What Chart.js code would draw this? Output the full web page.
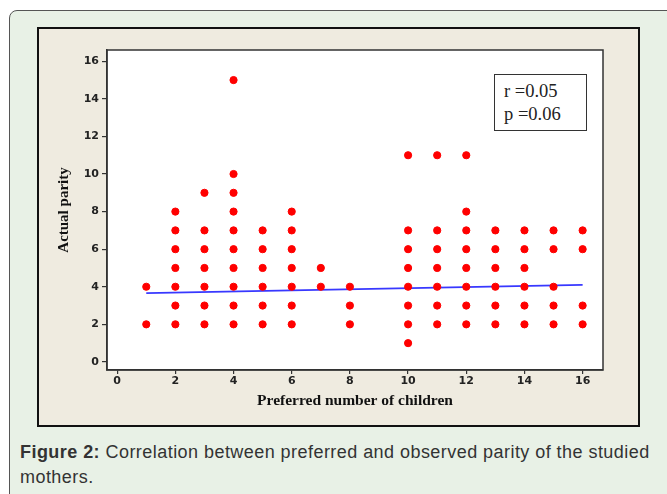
<!DOCTYPE html>
<html>
<head>
<meta charset="utf-8">
<script src="https://cdn.jsdelivr.net/npm/chart.js@4.4.0/dist/chart.umd.min.js"></script>
<style>
body { margin: 0; background: #fff; width: 667px; height: 494px; overflow: hidden; position: relative; }
.card { position: absolute; left: 9px; top: 10px; width: 680px; height: 500px; background: #e8f1e6; border: 1px solid #555; border-radius: 8px; }
.figure { position: absolute; left: 37px; top: 27px; width: 599px; height: 396px; background: #efebe0; border: 2px solid #111; }
#myChart { position: absolute; left: 0; top: 0; }
.stats { position: absolute; left: 455px; top: 45px; width: 93px; height: 57px; background: #fff; border: 1.5px solid #333;
  font-family: "Liberation Serif", serif; font-size: 18.5px; line-height: 23px; color: #222; padding: 5px 0 0 9px; box-sizing: border-box; }
.caption { position: absolute; left: 20px; top: 440px; width: 645px; font-family: "Liberation Sans", Arial, sans-serif; font-size: 18px; letter-spacing: 0.45px; line-height: 25px; color: #333; }
</style>
</head>
<body>
<div class="card"></div>
<div class="figure">
  <canvas id="myChart" width="599" height="396"></canvas>
  <div class="stats">r =0.05<br>p =0.06</div>
</div>
<div class="caption"><b>Figure 2:</b> Correlation between preferred and observed parity of the studied mothers.</div>
<script>
// preferred number of children and the observed parities at each
const preferred = [1, 2, 3, 4, 5, 6, 7, 8, 10, 11, 12, 13, 14, 15, 16];
const parities = [
    [4, 2],
    [8, 7, 6, 5, 4, 3, 2],
    [9, 7, 6, 5, 4, 3, 2],
    [15, 10, 9, 8, 7, 6, 5, 4, 3, 2],
    [7, 6, 5, 4, 3, 2],
    [8, 7, 6, 5, 4, 3, 2],
    [5, 4],
    [4, 3, 2],
    [11, 7, 6, 5, 4, 3, 2, 1],
    [11, 7, 6, 5, 4, 3, 2],
    [11, 8, 7, 6, 5, 4, 3, 2],
    [7, 6, 5, 4, 3, 2],
    [7, 6, 5, 4, 3, 2],
    [7, 6, 4, 3, 2],
    [7, 6, 3, 2]
];
const tickValues = [0, 2, 4, 6, 8, 10, 12, 14, 16];
// regression line ends
const fitX = [1, 16];
const fitY = [3.66, 4.1];

const points = [];
preferred.forEach(function(x, i) {
    parities[i].forEach(function(y) { points.push({x: x, y: y}); });
});
const fitLine = fitX.map(function(x, i) { return {x: x, y: fitY[i]}; });

// white plot area with a frame
const frame = {
    id: 'frame',
    beforeDraw: function(chart) {
        const a = chart.chartArea, c = chart.ctx;
        c.save();
        c.fillStyle = '#fff';
        c.fillRect(a.left, a.top, a.right - a.left, a.bottom - a.top);
        c.restore();
    },
    afterDraw: function(chart) {
        const a = chart.chartArea, c = chart.ctx;
        c.save();
        c.strokeStyle = '#333';
        c.lineWidth = 1.5;
        c.strokeRect(a.left, a.top, a.right - a.left, a.bottom - a.top);
        c.restore();
    }
};

function fixedTicks(axis) {
    axis.ticks = tickValues.map(function(v) { return {value: v}; });
}

document.addEventListener('DOMContentLoaded', function() {
    var ctx = document.getElementById('myChart').getContext('2d');
    var tickFont = { family: 'DejaVu Sans', size: 11, weight: 'bold' };

    new Chart(ctx, {
        type: 'scatter',
        data: {
            datasets: [{
                data: points,
                backgroundColor: '#ff0000',
                borderColor: '#ff0000',
                pointRadius: 3.6,
                pointHoverRadius: 3.6
            }, {
                type: 'line',
                data: fitLine,
                borderColor: '#3838ff',
                borderWidth: 1.6,
                pointRadius: 0,
                fill: false
            }]
        },
        options: {
            responsive: false,
            animation: false,
            events: [],
            layout: { padding: { left: 16, top: 21, right: 35, bottom: 15 } },
            plugins: { legend: { display: false }, tooltip: { enabled: false } },
            scales: {
                x: {
                    type: 'linear',
                    min: -0.35,
                    max: 16.7,
                    afterBuildTicks: fixedTicks,
                    afterFit: function(axis) { axis.height = 40; },
                    grid: { drawOnChartArea: false, tickLength: 4, color: '#333', lineWidth: 1.2 },
                    border: { color: '#333', width: 1.5 },
                    ticks: { font: tickFont, color: '#222', padding: 1 },
                    title: { display: true, text: 'Preferred number of children', font: { family: 'Liberation Serif', size: 15.5, weight: 'bold' }, color: '#111', padding: 0 }
                },
                y: {
                    type: 'linear',
                    min: -0.43,
                    max: 16.6,
                    afterBuildTicks: fixedTicks,
                    afterFit: function(axis) { axis.width = 52; },
                    grid: { drawOnChartArea: false, tickLength: 5, color: '#333', lineWidth: 1.2 },
                    border: { color: '#333', width: 1.5 },
                    ticks: { font: tickFont, color: '#222', padding: 3 },
                    title: { display: true, text: 'Actual parity', font: { family: 'Liberation Serif', size: 15, weight: 'bold' }, color: '#111', padding: 0 }
                }
            }
        },
        plugins: [frame]
    });
});
</script>
</body>
</html>
